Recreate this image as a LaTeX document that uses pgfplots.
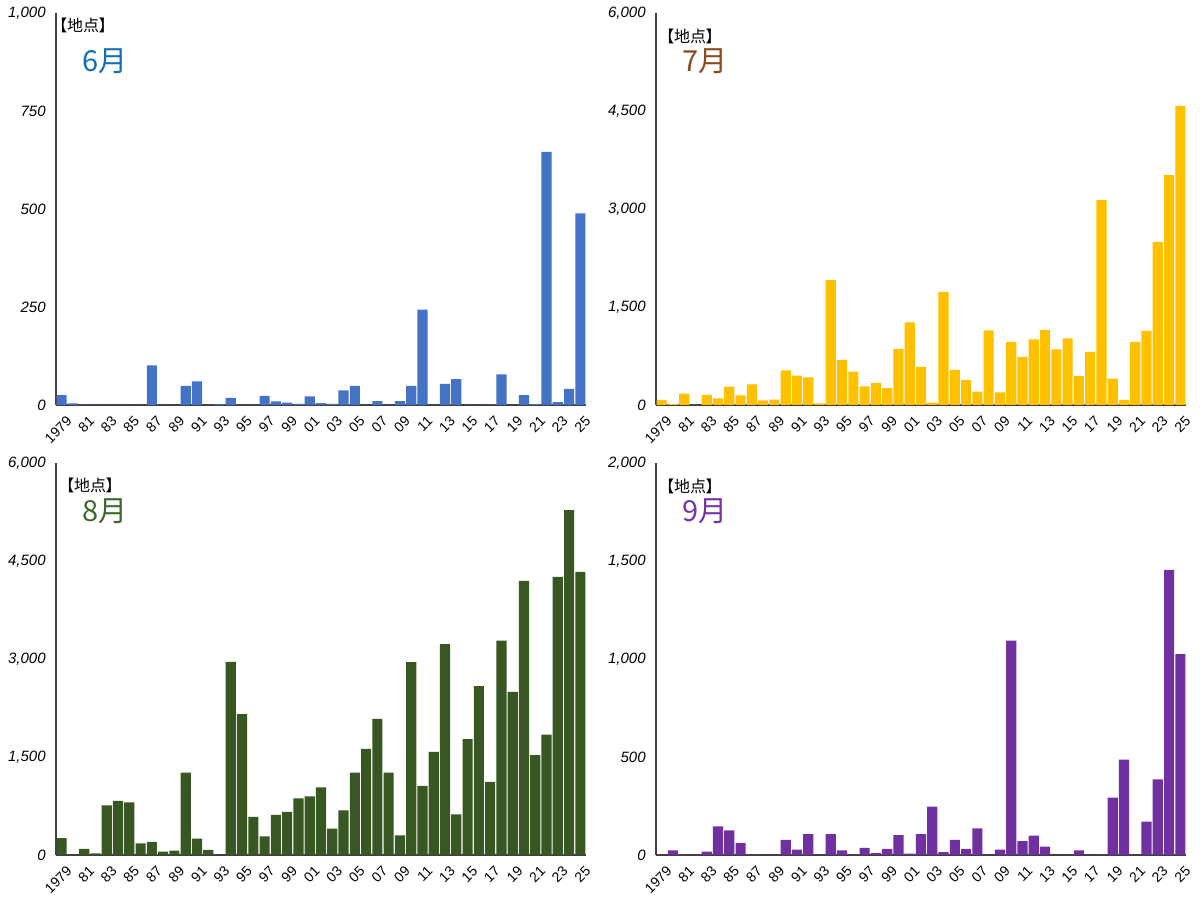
\documentclass[border=0pt]{standalone}
\usepackage{pgfplots}
\usepackage{pgfplotstable}
\pgfplotsset{compat=1.18}
\usepackage{fontspec}
\setmainfont{Liberation Sans}
\newfontfamily\jp[RawFeature=+palt]{Noto Sans CJK JP}

\definecolor{cJun}{HTML}{4472C4}
\definecolor{cJul}{HTML}{FFC000}
\definecolor{cAug}{HTML}{385723}
\definecolor{cSep}{HTML}{7030A0}
\definecolor{tJun}{HTML}{1170B8}
\definecolor{tJul}{HTML}{8B4A1E}
\definecolor{tAug}{HTML}{3D6A2C}
\definecolor{tSep}{HTML}{7535A8}
\definecolor{axgray}{HTML}{404040}

\pgfplotstableread{
x year jun jul aug sep
0 1979 25 77 260 0
1 1980 4 15 0 24
2 1981 1 174 92 2
3 1982 0 0 26 0
4 1983 0 153 761 17
5 1984 0 102 827 146
6 1985 0 281 807 126
7 1986 0 148 179 61
8 1987 101 317 199 2
9 1988 0 71 51 0
10 1989 0 82 66 0
11 1990 49 531 1261 77
12 1991 60 449 250 27
13 1992 0 424 77 106
14 1993 2 26 0 0
15 1994 18 1910 2956 106
16 1995 0 689 2155 24
17 1996 0 511 582 0
18 1997 23 286 286 36
19 1998 9 337 613 10
20 1999 6 260 659 31
21 2000 3 858 868 102
22 2001 22 1266 899 7
23 2002 5 582 1037 106
24 2003 3 36 403 247
25 2004 37 1731 684 15
26 2005 49 536 1261 77
27 2006 0 383 1624 31
28 2007 10 204 2083 136
29 2008 0 1144 1261 0
30 2009 10 194 301 27
31 2010 49 965 2951 1094
32 2011 243 735 1057 71
33 2012 0 1006 1578 99
34 2013 54 1149 3227 43
35 2014 66 853 623 0
36 2015 0 1021 1772 0
37 2016 0 444 2584 24
38 2017 1 812 1118 0
39 2018 78 3135 3283 2
40 2019 0 403 2497 293
41 2020 25 77 4197 487
42 2021 2 965 1527 0
43 2022 646 1134 1843 170
44 2023 7 2492 4258 386
45 2024 41 3518 5280 1455
46 2025 489 4580 4335 1025
}\data

\pgfplotsset{
  panel/.style={
    anchor=south west, scale only axis,
    width=265pt, height=196pt,
    xmin=-0.5, xmax=46.5, ymin=0,
    axis x line*=bottom, axis y line*=left,
    axis line style={-, draw=axgray, line width=0.65pt},
    major tick length=0pt,
    xtick={0,2,...,46},
    xticklabels={1979,81,83,85,87,89,91,93,95,97,99,01,03,05,07,09,11,13,15,17,19,21,23,25},
    xticklabel style={font=\fontsize{7}{8}\selectfont, xshift=2pt, yshift=-5pt, rotate=45, anchor=north east, inner sep=0pt},
    yticklabel style={font=\fontsize{7.5}{9}\selectfont\itshape, anchor=east, inner sep=0pt, xshift=-5pt},
    ybar, bar width=0.9,
    enlargelimits=false,
    clip=false,
  }
}

\begin{document}
\begin{tikzpicture}
\path[use as bounding box] (0,0) rectangle (600pt,450pt);

\begin{axis}[panel, at={(28pt,247.5pt)}, ymax=1000,
  ytick={0,250,500,750,1000}, yticklabels={0,250,500,750,{1,000}}]
\addplot[fill=cJun, draw=none] table[x=x, y=jun] {\data};
\end{axis}

\begin{axis}[panel, at={(328pt,247.5pt)}, ymax=6000,
  ytick={0,1500,3000,4500,6000}, yticklabels={0,{1,500},{3,000},{4,500},{6,000}}]
\addplot[fill=cJul, draw=none] table[x=x, y=jul] {\data};
\end{axis}

\begin{axis}[panel, at={(28pt,22.5pt)}, ymax=6000,
  ytick={0,1500,3000,4500,6000}, yticklabels={0,{1,500},{3,000},{4,500},{6,000}}]
\addplot[fill=cAug, draw=none] table[x=x, y=aug] {\data};
\end{axis}

\begin{axis}[panel, at={(328pt,22.5pt)}, ymax=2000,
  ytick={0,500,1000,1500,2000}, yticklabels={0,500,{1,000},{1,500},{2,000}}]
\addplot[fill=cSep, draw=none] table[x=x, y=sep] {\data};
\end{axis}

\node[font=\jp\fontsize{8}{9}\selectfont, inner sep=0pt] at (41.5pt,437.5pt) {【地点】};
\node[font=\jp\fontsize{8}{9}\selectfont, inner sep=0pt] at (345pt,432pt) {【地点】};
\node[font=\jp\fontsize{8}{9}\selectfont, inner sep=0pt] at (45pt,207.5pt) {【地点】};
\node[font=\jp\fontsize{8}{9}\selectfont, inner sep=0pt] at (345pt,207pt) {【地点】};

\node[font=\jp\fontsize{14.5}{16}\selectfont, text=tJun, inner sep=0pt] at (52.5pt,419.5pt) {6月};
\node[font=\jp\fontsize{14.5}{16}\selectfont, text=tJul, inner sep=0pt] at (352.5pt,419.5pt) {7月};
\node[font=\jp\fontsize{14.5}{16}\selectfont, text=tAug, inner sep=0pt] at (52.5pt,194.5pt) {8月};
\node[font=\jp\fontsize{14.5}{16}\selectfont, text=tSep, inner sep=0pt] at (352.5pt,194.5pt) {9月};
\end{tikzpicture}
\end{document}
